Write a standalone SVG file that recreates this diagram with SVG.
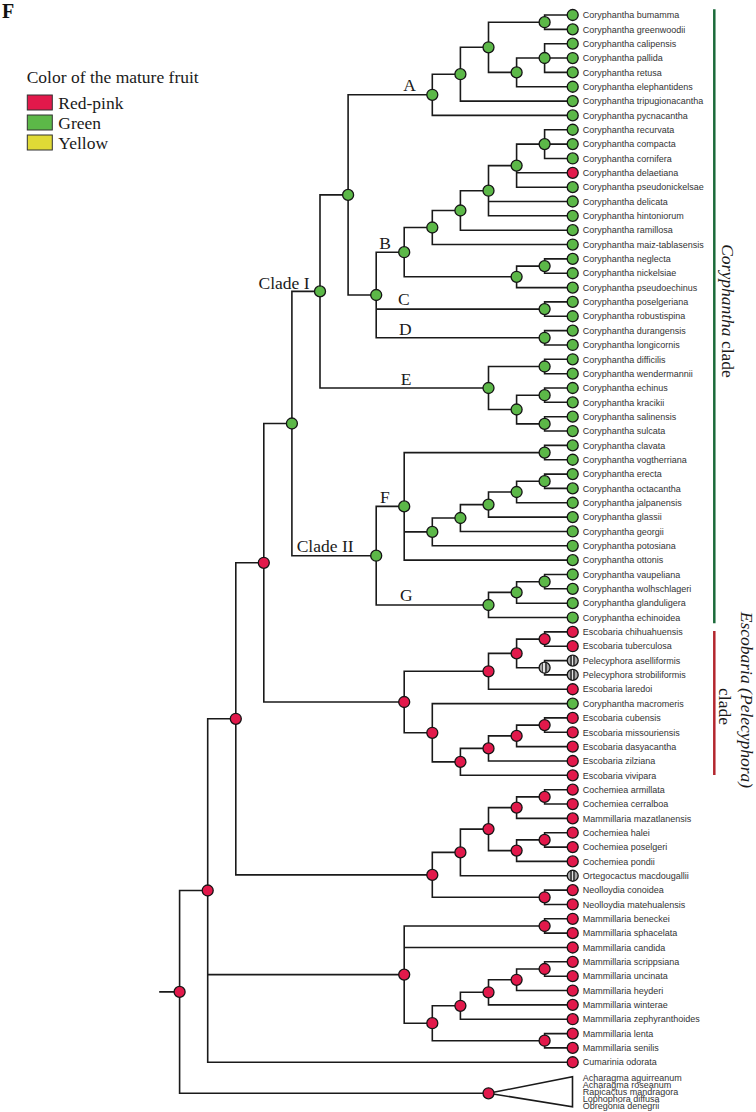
<svg xmlns="http://www.w3.org/2000/svg" width="756" height="1112" viewBox="0 0 756 1112">
<style>
.e{fill:none;stroke:#1a1a1a;stroke-width:1.6;stroke-linecap:square}
circle{stroke:#151515;stroke-width:1.3}
circle{r:5.5px}
.r{fill:#E2194B}
.g{fill:#5CB848}
.s{fill:url(#str)}
text{font-family:"Liberation Sans",Arial,sans-serif;font-size:9px;fill:#333}
.t{font-family:"Liberation Serif","Times New Roman",serif;font-size:17.5px;fill:#1a1a1a}
.i{font-style:italic}
</style>
<defs>
<linearGradient id="str" x1="0" y1="0" x2="1" y2="0">
<stop offset="0" stop-color="#a8a8a8"/><stop offset="0.27" stop-color="#a8a8a8"/>
<stop offset="0.27" stop-color="#4a4a4a"/><stop offset="0.4" stop-color="#4a4a4a"/>
<stop offset="0.4" stop-color="#e2e2e2"/><stop offset="0.56" stop-color="#e2e2e2"/>
<stop offset="0.56" stop-color="#4a4a4a"/><stop offset="0.69" stop-color="#4a4a4a"/>
<stop offset="0.69" stop-color="#a8a8a8"/><stop offset="1" stop-color="#a8a8a8"/>
</linearGradient>
</defs>
<rect width="756" height="1112" fill="#fff"/>

<g id="panel"><text x="2" y="18.3" style="font-family:'Liberation Serif',serif;font-size:20px;font-weight:bold;fill:#111">F</text></g>
<g id="legend">
<text class="t" x="26.7" y="83">Color of the mature fruit</text>
<rect x="27.3" y="95" width="25" height="15" fill="#E2194B" stroke="#333" stroke-width="1"/>
<text class="t" x="58.3" y="108.5">Red-pink</text>
<rect x="27.3" y="115" width="25" height="15" fill="#5CB848" stroke="#333" stroke-width="1"/>
<text class="t" x="58.3" y="128.5">Green</text>
<rect x="27.3" y="135" width="25" height="15" fill="#E0DA36" stroke="#333" stroke-width="1"/>
<text class="t" x="58.3" y="148.5">Yellow</text>
</g>

<g id="connectors">
<path class="e" d="M572.7 15 H544.6 V29.35 H572.7"/>
<path class="e" d="M572.7 43.7 H544.6 V72.4 H572.7 M544.6 58.0 H572.7"/>
<path class="e" d="M544.6 58.0 H516.6 V86.7 H572.7"/>
<path class="e" d="M544.6 22.2 H488.5 V72.4 H516.6"/>
<path class="e" d="M488.5 47.3 H460.4 V101.1 H572.7"/>
<path class="e" d="M460.4 74.2 H432.3 V115.4 H572.7"/>
<path class="e" d="M572.7 129.8 H544.6 V158.5 H572.7 M544.6 144.1 H572.7"/>
<path class="e" d="M544.6 144.1 H516.6 V187.2 H572.7 M516.6 172.8 H572.7"/>
<path class="e" d="M516.6 165.6 H488.5 V215.8 H572.7 M488.5 201.5 H572.7"/>
<path class="e" d="M488.5 190.7 H460.4 V230.2 H572.7"/>
<path class="e" d="M460.4 210.5 H432.3 V244.5 H572.7"/>
<path class="e" d="M572.7 258.9 H544.6 V273.2 H572.7"/>
<path class="e" d="M544.6 266.1 H516.6 V287.6 H572.7"/>
<path class="e" d="M432.3 227.5 H404.2 V276.8 H516.6"/>
<path class="e" d="M572.7 301.9 H544.6 V316.3 H572.7"/>
<path class="e" d="M572.7 330.6 H544.6 V345.0 H572.7"/>
<path class="e" d="M404.2 252.2 H376.2 V337.8 H544.6 M376.2 309.1 H544.6"/>
<path class="e" d="M432.3 94.8 H348.1 V295.0 H376.2"/>
<path class="e" d="M572.7 359.3 H544.6 V373.7 H572.7"/>
<path class="e" d="M572.7 388.0 H544.6 V402.3 H572.7"/>
<path class="e" d="M572.7 416.7 H544.6 V431.0 H572.7"/>
<path class="e" d="M544.6 395.2 H516.6 V423.9 H544.6"/>
<path class="e" d="M544.6 366.5 H488.5 V409.5 H516.6"/>
<path class="e" d="M348.1 194.9 H320 V388.0 H488.5"/>
<path class="e" d="M572.7 445.4 H544.6 V459.7 H572.7"/>
<path class="e" d="M572.7 474.1 H544.6 V488.4 H572.7"/>
<path class="e" d="M544.6 481.2 H516.6 V502.8 H572.7"/>
<path class="e" d="M516.6 492.0 H488.5 V517.1 H572.7"/>
<path class="e" d="M488.5 504.6 H460.4 V531.5 H572.7"/>
<path class="e" d="M460.4 518.0 H432.3 V545.8 H572.7"/>
<path class="e" d="M544.6 452.6 H404.2 V560.1 H572.7 M404.2 531.9 H432.3"/>
<path class="e" d="M572.7 574.5 H544.6 V588.8 H572.7"/>
<path class="e" d="M544.6 581.7 H516.6 V603.2 H572.7"/>
<path class="e" d="M516.6 592.4 H488.5 V617.5 H572.7"/>
<path class="e" d="M404.2 506.4 H376.2 V605.0 H488.5"/>
<path class="e" d="M320 291.4 H291.9 V555.7 H376.2"/>
<path class="e" d="M572.7 631.9 H544.6 V646.2 H572.7"/>
<path class="e" d="M572.7 660.6 H544.6 V674.9 H572.7"/>
<path class="e" d="M544.6 639.1 H516.6 V667.7 H544.6"/>
<path class="e" d="M516.6 653.4 H488.5 V689.3 H572.7"/>
<path class="e" d="M572.7 717.9 H544.6 V732.3 H572.7"/>
<path class="e" d="M544.6 725.1 H516.6 V746.6 H572.7"/>
<path class="e" d="M516.6 735.9 H488.5 V761.0 H572.7"/>
<path class="e" d="M488.5 748.4 H460.4 V775.3 H572.7"/>
<path class="e" d="M572.7 703.6 H432.3 V761.9 H460.4"/>
<path class="e" d="M488.5 671.3 H404.2 V732.8 H432.3"/>
<path class="e" d="M291.9 423.5 H263.8 V702.0 H404.2"/>
<path class="e" d="M572.7 789.7 H544.6 V804.0 H572.7"/>
<path class="e" d="M544.6 796.9 H516.6 V818.4 H572.7"/>
<path class="e" d="M572.7 832.7 H544.6 V847.1 H572.7"/>
<path class="e" d="M544.6 839.9 H516.6 V861.4 H572.7"/>
<path class="e" d="M516.6 807.6 H488.5 V850.6 H516.6"/>
<path class="e" d="M488.5 829.1 H460.4 V875.8 H572.7"/>
<path class="e" d="M572.7 890.1 H544.6 V904.5 H572.7"/>
<path class="e" d="M460.4 852.4 H432.3 V897.3 H544.6"/>
<path class="e" d="M263.8 562.8 H235.8 V874.9 H432.3"/>
<path class="e" d="M572.7 918.8 H544.6 V933.1 H572.7"/>
<path class="e" d="M572.7 961.8 H544.6 V976.2 H572.7"/>
<path class="e" d="M544.6 969.0 H516.6 V990.5 H572.7"/>
<path class="e" d="M516.6 979.8 H488.5 V1004.9 H572.7"/>
<path class="e" d="M488.5 992.3 H460.4 V1019.2 H572.7"/>
<path class="e" d="M572.7 1033.6 H544.6 V1047.9 H572.7"/>
<path class="e" d="M460.4 1005.8 H432.3 V1040.7 H544.6"/>
<path class="e" d="M544.6 926.0 H404.2 V1023.2 H432.3 M404.2 947.5 H572.7"/>
<path class="e" d="M235.8 718.8 H207.7 V1062.3 H572.7 M207.7 974.6 H404.2"/>
<path class="e" d="M207.7 890.5 H179.6 V1093.3 H488.5 M160 991.9 H179.6"/>
<path class="e" d="M488.5 1093.3 L572.5 1076.7 V1106.7 Z" style="stroke-linejoin:miter"/>
</g>

<g id="clade-bars">
<line x1="714.3" y1="9.3" x2="714.3" y2="623.3" stroke="#1B6A3A" stroke-width="2.5"/>
<line x1="714.3" y1="631" x2="714.3" y2="775" stroke="#B3262E" stroke-width="2.5"/>
<text class="t" transform="translate(721.8 311) rotate(90)" text-anchor="middle"><tspan class="i">Coryphantha</tspan> clade</text>
<text class="t i" transform="translate(740.5 700) rotate(90)" text-anchor="middle">Escobaria (Pelecyphora)</text>
<text class="t" transform="translate(719 706.5) rotate(90)" text-anchor="middle">clade</text>
</g>

<g id="internal-nodes">
<g id="n-bg"><circle class="g" cx="544.6" cy="22.2"/></g>
<g id="n-cpr"><circle class="g" cx="544.6" cy="58.0"/></g>
<g id="n-cpre"><circle class="g" cx="516.6" cy="72.4"/></g>
<g id="n-bgcpre"><circle class="g" cx="488.5" cy="47.3"/></g>
<g id="n-trip"><circle class="g" cx="460.4" cy="74.2"/></g>
<g id="n-A"><circle class="g" cx="432.3" cy="94.8"/><text class="t" x="403.3" y="90.5">A</text></g>
<g id="n-rcc"><circle class="g" cx="544.6" cy="144.1"/></g>
<g id="n-rccdp"><circle class="g" cx="516.6" cy="165.6"/></g>
<g id="n-x"><circle class="g" cx="488.5" cy="190.7"/></g>
<g id="n-ram"><circle class="g" cx="460.4" cy="210.5"/></g>
<g id="n-maiz"><circle class="g" cx="432.3" cy="227.5"/></g>
<g id="n-nn"><circle class="g" cx="544.6" cy="266.1"/></g>
<g id="n-nnp"><circle class="g" cx="516.6" cy="276.8"/></g>
<g id="n-B"><circle class="g" cx="404.2" cy="252.2"/><text class="t" x="379.3" y="248.5">B</text></g>
<g id="n-C"><circle class="g" cx="544.6" cy="309.1"/><text class="t" x="398" y="304.8">C</text></g>
<g id="n-D"><circle class="g" cx="544.6" cy="337.8"/><text class="t" x="399" y="334.5">D</text></g>
<g id="n-BCD"><circle class="g" cx="376.2" cy="295.0"/></g>
<g id="n-6"><circle class="g" cx="348.1" cy="194.9"/></g>
<g id="n-dw"><circle class="g" cx="544.6" cy="366.5"/></g>
<g id="n-ek"><circle class="g" cx="544.6" cy="395.2"/></g>
<g id="n-ss"><circle class="g" cx="544.6" cy="423.9"/></g>
<g id="n-eks"><circle class="g" cx="516.6" cy="409.5"/></g>
<g id="n-E"><circle class="g" cx="488.5" cy="388.0"/><text class="t" x="400.7" y="385">E</text></g>
<g id="n-cladeI"><circle class="g" cx="320" cy="291.4"/><text class="t" x="309.5" y="288.5" text-anchor="end">Clade I</text></g>
<g id="n-cv"><circle class="g" cx="544.6" cy="452.6"/></g>
<g id="n-eo"><circle class="g" cx="544.6" cy="481.2"/></g>
<g id="n-jal"><circle class="g" cx="516.6" cy="492.0"/></g>
<g id="n-gla"><circle class="g" cx="488.5" cy="504.6"/></g>
<g id="n-geo"><circle class="g" cx="460.4" cy="518.0"/></g>
<g id="n-pot"><circle class="g" cx="432.3" cy="531.9"/></g>
<g id="n-F"><circle class="g" cx="404.2" cy="506.4"/><text class="t" x="380" y="503.3">F</text></g>
<g id="n-vw"><circle class="g" cx="544.6" cy="581.7"/></g>
<g id="n-gland"><circle class="g" cx="516.6" cy="592.4"/></g>
<g id="n-G"><circle class="g" cx="488.5" cy="605.0"/><text class="t" x="400" y="600.5">G</text></g>
<g id="n-cladeII"><circle class="g" cx="376.2" cy="555.7"/><text class="t" x="296.7" y="551.5">Clade II</text></g>
<g id="n-4"><circle class="g" cx="291.9" cy="423.5"/></g>
<g id="n-ct"><circle class="r" cx="544.6" cy="639.1"/></g>
<g id="n-pel"><circle class="s" cx="544.6" cy="667.7"/></g>
<g id="n-ctp"><circle class="r" cx="516.6" cy="653.4"/></g>
<g id="n-lar"><circle class="r" cx="488.5" cy="671.3"/></g>
<g id="n-cm"><circle class="r" cx="544.6" cy="725.1"/></g>
<g id="n-das"><circle class="r" cx="516.6" cy="735.9"/></g>
<g id="n-zil"><circle class="r" cx="488.5" cy="748.4"/></g>
<g id="n-viv"><circle class="r" cx="460.4" cy="761.9"/></g>
<g id="n-mac"><circle class="r" cx="432.3" cy="732.8"/></g>
<g id="n-esc"><circle class="r" cx="404.2" cy="702.0"/></g>
<g id="n-3"><circle class="r" cx="263.8" cy="562.8"/></g>
<g id="n-ac"><circle class="r" cx="544.6" cy="796.9"/></g>
<g id="n-maz"><circle class="r" cx="516.6" cy="807.6"/></g>
<g id="n-hp"><circle class="r" cx="544.6" cy="839.9"/></g>
<g id="n-pon"><circle class="r" cx="516.6" cy="850.6"/></g>
<g id="n-c4"><circle class="r" cx="488.5" cy="829.1"/></g>
<g id="n-ort"><circle class="r" cx="460.4" cy="852.4"/></g>
<g id="n-neo"><circle class="r" cx="544.6" cy="897.3"/></g>
<g id="n-coch"><circle class="r" cx="432.3" cy="874.9"/></g>
<g id="n-2"><circle class="r" cx="235.8" cy="718.8"/></g>
<g id="n-bs"><circle class="r" cx="544.6" cy="926.0"/></g>
<g id="n-su"><circle class="r" cx="544.6" cy="969.0"/></g>
<g id="n-hey"><circle class="r" cx="516.6" cy="979.8"/></g>
<g id="n-win"><circle class="r" cx="488.5" cy="992.3"/></g>
<g id="n-zep"><circle class="r" cx="460.4" cy="1005.8"/></g>
<g id="n-ls"><circle class="r" cx="544.6" cy="1040.7"/></g>
<g id="n-lsz"><circle class="r" cx="432.3" cy="1023.2"/></g>
<g id="n-mam"><circle class="r" cx="404.2" cy="974.6"/></g>
<g id="n-1"><circle class="r" cx="207.7" cy="890.5"/></g>
<g id="n-root"><circle class="r" cx="179.6" cy="991.9"/></g>
<g id="n-collapsed"><circle class="r" cx="488.5" cy="1093.3"/>
<text x="582.7" y="1080.5">Acharagma aguirreanum</text>
<text x="582.7" y="1087.7">Acharagma roseanum</text>
<text x="582.7" y="1094.9">Rapicactus mandragora</text>
<text x="582.7" y="1102.1">Lophophora diffusa</text>
<text x="582.7" y="1109.3">Obregonia denegrii</text>
</g>
</g>

<g id="leaves">
<g id="l0"><circle class="g" cx="572.7" cy="15.0"/><text x="582.7" y="18.2">Coryphantha bumamma</text></g>
<g id="l1"><circle class="g" cx="572.7" cy="29.35"/><text x="582.7" y="32.55">Coryphantha greenwoodii</text></g>
<g id="l2"><circle class="g" cx="572.7" cy="43.69"/><text x="582.7" y="46.89">Coryphantha calipensis</text></g>
<g id="l3"><circle class="g" cx="572.7" cy="58.04"/><text x="582.7" y="61.24">Coryphantha pallida</text></g>
<g id="l4"><circle class="g" cx="572.7" cy="72.38"/><text x="582.7" y="75.58">Coryphantha retusa</text></g>
<g id="l5"><circle class="g" cx="572.7" cy="86.73"/><text x="582.7" y="89.93">Coryphantha elephantidens</text></g>
<g id="l6"><circle class="g" cx="572.7" cy="101.08"/><text x="582.7" y="104.28">Coryphantha tripugionacantha</text></g>
<g id="l7"><circle class="g" cx="572.7" cy="115.42"/><text x="582.7" y="118.62">Coryphantha pycnacantha</text></g>
<g id="l8"><circle class="g" cx="572.7" cy="129.77"/><text x="582.7" y="132.97">Coryphantha recurvata</text></g>
<g id="l9"><circle class="g" cx="572.7" cy="144.11"/><text x="582.7" y="147.31">Coryphantha compacta</text></g>
<g id="l10"><circle class="g" cx="572.7" cy="158.46"/><text x="582.7" y="161.66">Coryphantha cornifera</text></g>
<g id="l11"><circle class="r" cx="572.7" cy="172.81"/><text x="582.7" y="176.01">Coryphantha delaetiana</text></g>
<g id="l12"><circle class="g" cx="572.7" cy="187.15"/><text x="582.7" y="190.35">Coryphantha pseudonickelsae</text></g>
<g id="l13"><circle class="g" cx="572.7" cy="201.5"/><text x="582.7" y="204.7">Coryphantha delicata</text></g>
<g id="l14"><circle class="g" cx="572.7" cy="215.84"/><text x="582.7" y="219.04">Coryphantha hintoniorum</text></g>
<g id="l15"><circle class="g" cx="572.7" cy="230.19"/><text x="582.7" y="233.39">Coryphantha ramillosa</text></g>
<g id="l16"><circle class="g" cx="572.7" cy="244.54"/><text x="582.7" y="247.74">Coryphantha maiz-tablasensis</text></g>
<g id="l17"><circle class="g" cx="572.7" cy="258.88"/><text x="582.7" y="262.08">Coryphantha neglecta</text></g>
<g id="l18"><circle class="g" cx="572.7" cy="273.23"/><text x="582.7" y="276.43">Coryphantha nickelsiae</text></g>
<g id="l19"><circle class="g" cx="572.7" cy="287.57"/><text x="582.7" y="290.77">Coryphantha pseudoechinus</text></g>
<g id="l20"><circle class="g" cx="572.7" cy="301.92"/><text x="582.7" y="305.12">Coryphantha poselgeriana</text></g>
<g id="l21"><circle class="g" cx="572.7" cy="316.27"/><text x="582.7" y="319.47">Coryphantha robustispina</text></g>
<g id="l22"><circle class="g" cx="572.7" cy="330.61"/><text x="582.7" y="333.81">Coryphantha durangensis</text></g>
<g id="l23"><circle class="g" cx="572.7" cy="344.96"/><text x="582.7" y="348.16">Coryphantha longicornis</text></g>
<g id="l24"><circle class="g" cx="572.7" cy="359.3"/><text x="582.7" y="362.5">Coryphantha difficilis</text></g>
<g id="l25"><circle class="g" cx="572.7" cy="373.65"/><text x="582.7" y="376.85">Coryphantha wendermannii</text></g>
<g id="l26"><circle class="g" cx="572.7" cy="388.0"/><text x="582.7" y="391.2">Coryphantha echinus</text></g>
<g id="l27"><circle class="g" cx="572.7" cy="402.34"/><text x="582.7" y="405.54">Coryphantha kracikii</text></g>
<g id="l28"><circle class="g" cx="572.7" cy="416.69"/><text x="582.7" y="419.89">Coryphantha salinensis</text></g>
<g id="l29"><circle class="g" cx="572.7" cy="431.03"/><text x="582.7" y="434.23">Coryphantha sulcata</text></g>
<g id="l30"><circle class="g" cx="572.7" cy="445.38"/><text x="582.7" y="448.58">Coryphantha clavata</text></g>
<g id="l31"><circle class="g" cx="572.7" cy="459.73"/><text x="582.7" y="462.93">Coryphantha vogtherriana</text></g>
<g id="l32"><circle class="g" cx="572.7" cy="474.07"/><text x="582.7" y="477.27">Coryphantha erecta</text></g>
<g id="l33"><circle class="g" cx="572.7" cy="488.42"/><text x="582.7" y="491.62">Coryphantha octacantha</text></g>
<g id="l34"><circle class="g" cx="572.7" cy="502.76"/><text x="582.7" y="505.96">Coryphantha jalpanensis</text></g>
<g id="l35"><circle class="g" cx="572.7" cy="517.11"/><text x="582.7" y="520.31">Coryphantha glassii</text></g>
<g id="l36"><circle class="g" cx="572.7" cy="531.46"/><text x="582.7" y="534.66">Coryphantha georgii</text></g>
<g id="l37"><circle class="g" cx="572.7" cy="545.8"/><text x="582.7" y="549.0">Coryphantha potosiana</text></g>
<g id="l38"><circle class="g" cx="572.7" cy="560.15"/><text x="582.7" y="563.35">Coryphantha ottonis</text></g>
<g id="l39"><circle class="g" cx="572.7" cy="574.49"/><text x="582.7" y="577.69">Coryphantha vaupeliana</text></g>
<g id="l40"><circle class="g" cx="572.7" cy="588.84"/><text x="582.7" y="592.04">Coryphantha wolhschlageri</text></g>
<g id="l41"><circle class="g" cx="572.7" cy="603.19"/><text x="582.7" y="606.39">Coryphantha glanduligera</text></g>
<g id="l42"><circle class="g" cx="572.7" cy="617.53"/><text x="582.7" y="620.73">Coryphantha echinoidea</text></g>
<g id="l43"><circle class="r" cx="572.7" cy="631.88"/><text x="582.7" y="635.08">Escobaria chihuahuensis</text></g>
<g id="l44"><circle class="r" cx="572.7" cy="646.22"/><text x="582.7" y="649.42">Escobaria tuberculosa</text></g>
<g id="l45"><circle class="s" cx="572.7" cy="660.57"/><text x="582.7" y="663.77">Pelecyphora aselliformis</text></g>
<g id="l46"><circle class="s" cx="572.7" cy="674.92"/><text x="582.7" y="678.12">Pelecyphora strobiliformis</text></g>
<g id="l47"><circle class="r" cx="572.7" cy="689.26"/><text x="582.7" y="692.46">Escobaria laredoi</text></g>
<g id="l48"><circle class="g" cx="572.7" cy="703.61"/><text x="582.7" y="706.81">Coryphantha macromeris</text></g>
<g id="l49"><circle class="r" cx="572.7" cy="717.95"/><text x="582.7" y="721.15">Escobaria cubensis</text></g>
<g id="l50"><circle class="r" cx="572.7" cy="732.3"/><text x="582.7" y="735.5">Escobaria missouriensis</text></g>
<g id="l51"><circle class="r" cx="572.7" cy="746.65"/><text x="582.7" y="749.85">Escobaria dasyacantha</text></g>
<g id="l52"><circle class="r" cx="572.7" cy="760.99"/><text x="582.7" y="764.19">Escobaria zilziana</text></g>
<g id="l53"><circle class="r" cx="572.7" cy="775.34"/><text x="582.7" y="778.54">Escobaria vivipara</text></g>
<g id="l54"><circle class="r" cx="572.7" cy="789.68"/><text x="582.7" y="792.88">Cochemiea armillata</text></g>
<g id="l55"><circle class="r" cx="572.7" cy="804.03"/><text x="582.7" y="807.23">Cochemiea cerralboa</text></g>
<g id="l56"><circle class="r" cx="572.7" cy="818.38"/><text x="582.7" y="821.58">Mammillaria mazatlanensis</text></g>
<g id="l57"><circle class="r" cx="572.7" cy="832.72"/><text x="582.7" y="835.92">Cochemiea halei</text></g>
<g id="l58"><circle class="r" cx="572.7" cy="847.07"/><text x="582.7" y="850.27">Cochemiea poselgeri</text></g>
<g id="l59"><circle class="r" cx="572.7" cy="861.41"/><text x="582.7" y="864.61">Cochemiea pondii</text></g>
<g id="l60"><circle class="s" cx="572.7" cy="875.76"/><text x="582.7" y="878.96">Ortegocactus macdougallii</text></g>
<g id="l61"><circle class="r" cx="572.7" cy="890.11"/><text x="582.7" y="893.31">Neolloydia conoidea</text></g>
<g id="l62"><circle class="r" cx="572.7" cy="904.45"/><text x="582.7" y="907.65">Neolloydia matehualensis</text></g>
<g id="l63"><circle class="r" cx="572.7" cy="918.8"/><text x="582.7" y="922.0">Mammillaria beneckei</text></g>
<g id="l64"><circle class="r" cx="572.7" cy="933.14"/><text x="582.7" y="936.34">Mammillaria sphacelata</text></g>
<g id="l65"><circle class="r" cx="572.7" cy="947.49"/><text x="582.7" y="950.69">Mammillaria candida</text></g>
<g id="l66"><circle class="r" cx="572.7" cy="961.84"/><text x="582.7" y="965.04">Mammillaria scrippsiana</text></g>
<g id="l67"><circle class="r" cx="572.7" cy="976.18"/><text x="582.7" y="979.38">Mammillaria uncinata</text></g>
<g id="l68"><circle class="r" cx="572.7" cy="990.53"/><text x="582.7" y="993.73">Mammillaria heyderi</text></g>
<g id="l69"><circle class="r" cx="572.7" cy="1004.87"/><text x="582.7" y="1008.07">Mammillaria winterae</text></g>
<g id="l70"><circle class="r" cx="572.7" cy="1019.22"/><text x="582.7" y="1022.42">Mammillaria zephyranthoides</text></g>
<g id="l71"><circle class="r" cx="572.7" cy="1033.57"/><text x="582.7" y="1036.77">Mammillaria lenta</text></g>
<g id="l72"><circle class="r" cx="572.7" cy="1047.91"/><text x="582.7" y="1051.11">Mammillaria senilis</text></g>
<g id="l73"><circle class="r" cx="572.7" cy="1062.26"/><text x="582.7" y="1065.46">Cumarinia odorata</text></g>
</g>
</svg>
